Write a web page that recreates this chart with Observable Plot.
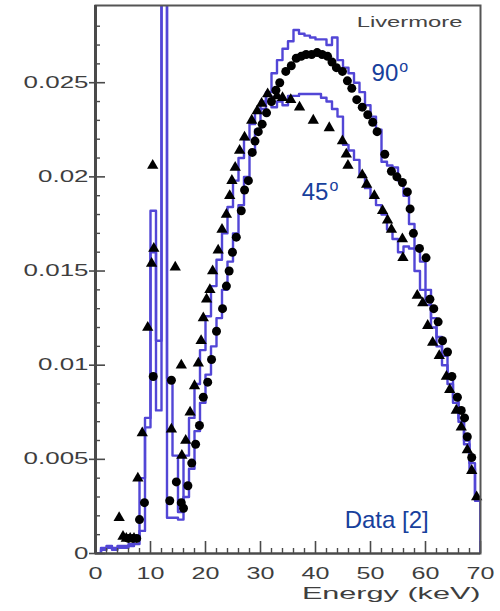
<!DOCTYPE html>
<html><head><meta charset="utf-8">
<script src="https://cdn.jsdelivr.net/npm/d3@7"></script>
<script src="https://cdn.jsdelivr.net/npm/@observablehq/plot@0.6"></script>
<style>html,body{margin:0;padding:0;background:#fff}#chart svg{display:block}</style>
</head><body><div id="chart"></div>
<script>
// ---- data ----
const binStarts = [0,1,2,3,4,5,6,7,8,9,10,11,12,13,14,15,16,17,18,19,20,21,22,23,24,25,26,27,28,29,30,31,32,33,34,35,36,37,38,39,40,41,42,43,44,45,46,47,48,49,50,51,52,53,54,55,56,57,58,59,60,61,62,63,64,65,66,67,68,69];
const sim90 = [0,0.0003,0.0004,0.0003,0.0004,0.0004,0.0005,0.0005,0.0012,0.0072,
 0.0182,0.0113,0.0340,0.0093,0.0052,0.0022,0.0030,0.0045,0.0065,0.0080,
 0.0095,0.0110,0.0125,0.0140,0.0155,0.0170,0.0185,0.0200,0.0213,0.0225,
 0.0236,0.0245,0.0255,0.0262,0.0268,0.0272,0.0278,0.0276,0.0275,0.0274,
 0.0273,0.0273,0.0270,0.0274,0.0262,0.0258,0.0255,0.0250,0.0245,0.0238,
 0.0232,0.0225,0.0208,0.0206,0.0205,0.0198,0.0190,0.0175,0.0162,0.0155,
 0.0140,0.0125,0.0115,0.0105,0.0095,0.0083,0.0072,0.0060,0.0048,0.0030];
const sim45 = [0,0.0002,0.0003,0.0002,0.0003,0.0003,0.0004,0.0008,0.0040,0.0067,
 0.0160,0.0076,0.0320,0.0019,0.0019,0.0018,0.0052,0.0072,0.0090,0.0108,
 0.0126,0.0142,0.0156,0.0170,0.0184,0.0198,0.0210,0.0220,0.0228,0.0235,
 0.0240,0.0243,0.0237,0.0240,0.0238,0.0243,0.0243,0.0244,0.0244,0.0244,
 0.0244,0.0242,0.0240,0.0236,0.0232,0.0217,0.0214,0.0209,0.0201,0.0194,
 0.0189,0.0185,0.0180,0.0172,0.0167,0.0160,0.0163,0.0162,0.0150,0.0140,
 0.0132,0.0120,0.0110,0.0100,0.0090,0.0080,0.0070,0.0058,0.0045,0.0028];

const data90E = [6.0,6.8,7.5,8.0,8.9,10.5,13.5,13.8,14.7,15.6,16.0,16.8,17.5,18.2,18.9,19.6,20.4,21.1,22.0,23.1,23.8,24.3,24.9,25.6,26.5,27.1,27.8,28.5,29.0,29.6,30.3,31.1,32.0,32.8,33.5,34.6,35.6,36.5,37.4,38.3,39.3,40.3,41.2,42.2,43.0,43.8,44.9,45.8,46.6,47.5,48.5,49.5,50.4,51.2,52.6,53.8,54.8,55.8,56.7,57.2,57.8,58.9,60.1,60.8,61.5,62.3,63.1,64.0,64.8,65.8,66.5,67.1,67.6,68.4];
const data90V = [0.0008,0.0008,0.0008,0.0018,0.0027,0.0094,0.0028,0.0092,0.0038,0.0027,0.0024,0.0036,0.0048,0.0058,0.0068,0.0083,0.0091,0.0103,0.0118,0.0130,0.0142,0.0150,0.0160,0.0168,0.0182,0.0193,0.0198,0.0213,0.0219,0.0224,0.0228,0.0234,0.0240,0.0246,0.0250,0.0256,0.0259,0.0263,0.0264,0.0265,0.0265,0.0266,0.0265,0.0264,0.0261,0.0258,0.0256,0.0251,0.0247,0.0241,0.0237,0.0233,0.0229,0.0224,0.0212,0.0203,0.0200,0.0197,0.0192,0.0183,0.0170,0.0162,0.0157,0.0135,0.0130,0.0123,0.0113,0.0107,0.0094,0.0083,0.0076,0.0072,0.0062,0.0051];

const data45E = [4.3,5.0,5.6,6.3,7.0,7.7,8.5,9.5,10.2,10.6,10.4,13.8,14.5,15.6,15.7,16.4,17.2,18.0,18.7,19.2,19.6,20.2,20.8,21.3,22.3,23.0,23.8,24.4,24.8,25.4,26.2,27.1,28.4,29.4,30.2,31.3,33.0,34.0,35.5,37.1,39.6,42.5,44.9,45.6,45.9,48.5,49.3,50.7,52.2,53.1,53.8,55.8,55.9,58.5,59.5,60.4,61.3,62.5,63.8,64.4,65.6,66.5,67.6,68.4,69.3];
const data45V = [0.0019,0.0009,0.0008,0.0008,0.0008,0.0040,0.0064,0.0120,0.0154,0.0162,0.0206,0.0066,0.0152,0.0100,0.0052,0.0060,0.0075,0.0089,0.0101,0.0113,0.0125,0.0135,0.0140,0.0150,0.0161,0.0172,0.0180,0.0190,0.0198,0.0205,0.0214,0.0221,0.0230,0.0235,0.0239,0.0244,0.0243,0.0242,0.0241,0.0237,0.0230,0.0226,0.0219,0.0212,0.0206,0.0201,0.0196,0.0190,0.0182,0.0177,0.0172,0.0167,0.0157,0.0137,0.0133,0.0121,0.0112,0.0105,0.0094,0.0087,0.0076,0.0067,0.0055,0.0044,0.0030];

const xTicks = [0,10,20,30,40,50,60,70];
const xTickLabels = ["0","10","20","30","40","50","60","70"];
const xMinorTicks = [2,4,6,8,12,14,16,18,22,24,26,28,32,34,36,38,42,44,46,48,52,54,56,58,62,64,66,68];
const yTicks = [0,0.005,0.01,0.015,0.02,0.025];
const yTickLabels = ["0","0.005","0.01","0.015","0.02","0.025"];
const yMinorTicks = [0.001,0.002,0.003,0.004,0.006,0.007,0.008,0.009,0.011,0.012,0.013,0.014,0.016,0.017,0.018,0.019,0.021,0.022,0.023,0.024,0.026,0.027,0.028];
const xTitle = "Energy (keV)";
const modelLabel = {text: "Livermore", e: 57.1, v: 0.02818};
const angleLabels = [{text: "90", e: 50.2, v: 0.02548}, {text: "45", e: 37.5, v: 0.01916}];
const sourceLabel = {text: "Data [2]", e: 45.3, v: 0.00175};

// ---- build tables ----
function histRows(vals) {
  const rows = binStarts.map((e, i) => ({e, v: vals[i]}));
  rows.push({e: 70, v: 0});
  return rows;
}
const h90 = histRows(sim90), h45 = histRows(sim45);
const d90 = data90E.map((e, i) => ({e, v: data90V[i]}));
const d45 = data45E.map((e, i) => ({e, v: data45V[i]}));

const W = 500, H = 611, mL = 95, mR = 20, mT = 5, mB = 58;
const iW = W - mL - mR, iH = H - mT - mB;
const histColor = "#5246d6", axisColor = "#4a4a4a", textGray = "#3e3e3e", blue = "#17409c";
const font = "'Liberation Sans', Arial, sans-serif";

const chart = Plot.plot({
  width: W, height: H,
  marginLeft: mL, marginRight: mR, marginTop: mT, marginBottom: mB,
  style: {fontFamily: font, background: "#fff", color: textGray},
  x: {domain: [0, 70]},
  y: {domain: [0, 0.0291]},
  marks: [
    Plot.line(h45, {x: "e", y: "v", curve: "step-after", stroke: histColor, strokeWidth: 2.4, clip: true}),
    Plot.line(h90, {x: "e", y: "v", curve: "step-after", stroke: histColor, strokeWidth: 2.4, clip: true}),
    Plot.dot(d90, {x: "e", y: "v", r: 4.5, fill: "#000", symbol: "circle"}),
    Plot.dot(d45, {x: "e", y: "v", r: 4.2, fill: "#000", symbol: "triangle"}),
    // inward ticks
    Plot.tickY(yTicks, {y: d => d, insetRight: iW - 10, stroke: axisColor, strokeWidth: 1.6}),
    Plot.tickY(yMinorTicks, {y: d => d, insetRight: iW - 5, stroke: axisColor, strokeWidth: 1.4}),
    Plot.tickX(xTicks, {x: d => d, insetTop: iH - 12, stroke: axisColor, strokeWidth: 1.6}),
    Plot.tickX(xMinorTicks, {x: d => d, insetTop: iH - 5, stroke: axisColor, strokeWidth: 1.4}),
    Plot.frame({stroke: "#555", strokeWidth: 2}),
    Plot.ruleX([0], {stroke: axisColor, strokeWidth: 3}),
    Plot.ruleY([0], {stroke: axisColor, strokeWidth: 2}),
    Plot.axisY(yTicks, {tickSize: 6, tickPadding: 1, fontSize: 16, stroke: axisColor, strokeWidth: 1.6, fill: textGray,
      tickFormat: d => yTickLabels[yTicks.indexOf(d)], label: null}),
    Plot.axisX(xTicks, {tickSize: 0, tickPadding: 14, fontSize: 16, fill: textGray,
      tickFormat: d => xTickLabels[xTicks.indexOf(d)], label: null}),
    Plot.text([xTitle], {frameAnchor: "bottom-right", dy: 45, text: d => d, textAnchor: "end", fontSize: 17, fill: textGray, ariaDescription: "xtitle"}),
    Plot.text([modelLabel], {x: "e", y: "v", text: "text", textAnchor: "middle", fontSize: 14, fill: "#444", ariaDescription: "model"}),
    Plot.text(angleLabels, {x: "e", y: "v", text: "text", textAnchor: "start", fontSize: 24, fill: blue, ariaDescription: "angle"}),
    Plot.text([sourceLabel], {x: "e", y: "v", text: "text", textAnchor: "start", fontSize: 24, fill: blue, letterSpacing: "1px"})
  ]
});
document.getElementById("chart").append(chart);

// horizontal stretch of the grey texts, as in the reference picture
function stretch(sel, f) {
  sel.each(function () {
    const w = this.getComputedTextLength();
    this.setAttribute("textLength", (w * f).toFixed(1));
    this.setAttribute("lengthAdjust", "spacingAndGlyphs");
  });
}
const s = d3.select(chart);
stretch(s.selectAll('g[aria-label="y-axis tick label"] text'), 1.62);
stretch(s.selectAll('g[aria-label="x-axis tick label"] text'), 1.57);
stretch(s.selectAll('g[aria-description="xtitle"] text'), 1.8);
stretch(s.selectAll('g[aria-description="model"] text'), 1.7);
// superscript "o" after the angles
s.selectAll('g[aria-description="angle"] text').each(function () {
  d3.select(this).append("tspan").attr("dy", -9).attr("dx", 1).attr("font-size", 16).text("o");
});
</script>
</body></html>
